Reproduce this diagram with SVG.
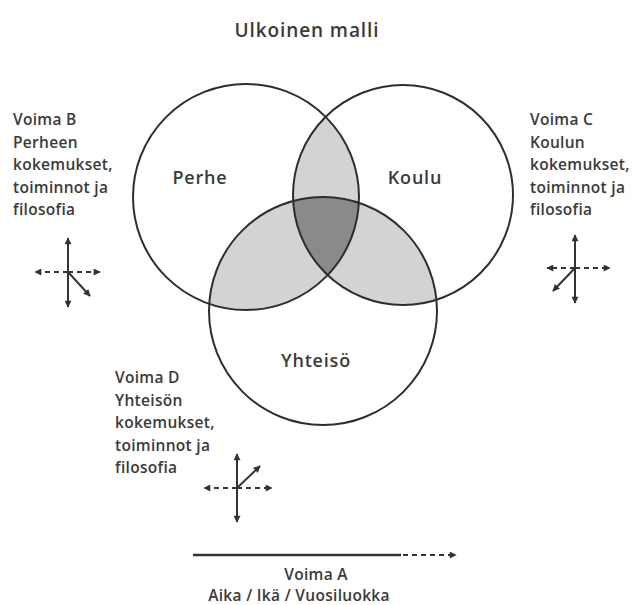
<svg xmlns="http://www.w3.org/2000/svg" width="638" height="605" viewBox="0 0 638 605">
<style>
  .lbl { font-family: "Open Sans", "Liberation Sans", sans-serif; fill: #3a3a3a; font-weight: 600; }
  .title { font-size: 19px; letter-spacing: 0.9px; }
  .node { font-size: 18px; letter-spacing: 0.8px; text-anchor: middle; }
  .side { font-size: 15.5px; letter-spacing: 0.3px; }
  .ring { fill: none; stroke: #2e2e2e; stroke-width: 2; }
  .ax { stroke: #333; stroke-width: 2; fill: none; }
  .dash { stroke: #333; stroke-width: 2; stroke-dasharray: 5 4; fill: none; }
</style>
<defs>
  <clipPath id="cA"><circle cx="246" cy="197" r="113"/></clipPath>
  <clipPath id="cB"><circle cx="403" cy="195" r="110"/></clipPath>
  <clipPath id="cC"><circle cx="323" cy="311" r="114"/></clipPath>
  <marker id="ah" viewBox="0 0 10 10" refX="9" refY="5" markerWidth="8" markerHeight="7" markerUnits="userSpaceOnUse" orient="auto-start-reverse">
    <path d="M0,0 L10,5 L0,10 z" fill="#333"/>
  </marker>
</defs>
<rect width="638" height="605" fill="#ffffff"/>

<text class="lbl title" x="307" y="37" text-anchor="middle">Ulkoinen malli</text>

<g id="overlaps">
  <g clip-path="url(#cA)"><circle cx="403" cy="195" r="110" fill="#d3d3d3"/></g>
  <g clip-path="url(#cA)"><circle cx="323" cy="311" r="114" fill="#d3d3d3"/></g>
  <g clip-path="url(#cB)"><circle cx="323" cy="311" r="114" fill="#d3d3d3"/></g>
  <g clip-path="url(#cA)"><g clip-path="url(#cB)"><circle cx="323" cy="311" r="114" fill="#8a8a8a"/></g></g>
</g>

<g id="perhe">
  <circle class="ring" cx="246" cy="197" r="113"/>
  <text class="lbl node" x="200" y="184">Perhe</text>
</g>
<g id="koulu">
  <circle class="ring" cx="403" cy="195" r="110"/>
  <text class="lbl node" x="415" y="184">Koulu</text>
</g>
<g id="yhteiso">
  <circle class="ring" cx="323" cy="311" r="114"/>
  <text class="lbl node" x="316" y="367">Yhteisö</text>
</g>

<g id="voima-b">
  <text class="lbl side" x="13" y="125">Voima B<tspan x="13" dy="22.5">Perheen</tspan><tspan x="13" dy="22.5">kokemukset,</tspan><tspan x="13" dy="22.5">toiminnot ja</tspan><tspan x="13" dy="22.5">filosofia</tspan></text>
</g>
<g id="voima-c">
  <text class="lbl side" x="530" y="125">Voima C<tspan x="530" dy="22.5">Koulun</tspan><tspan x="530" dy="22.5">kokemukset,</tspan><tspan x="530" dy="22.5">toiminnot ja</tspan><tspan x="530" dy="22.5">filosofia</tspan></text>
</g>
<g id="voima-d">
  <text class="lbl side" x="115" y="383">Voima D<tspan x="115" dy="22.5">Yhteisön</tspan><tspan x="115" dy="22.5">kokemukset,</tspan><tspan x="115" dy="22.5">toiminnot ja</tspan><tspan x="115" dy="22.5">filosofia</tspan></text>
</g>
<g id="voima-a">
  <text class="lbl side" x="316" y="580" text-anchor="middle">Voima A</text>
  <text class="lbl side" x="299" y="601" text-anchor="middle">Aika / Ikä / Vuosiluokka</text>
</g>

<g id="connectors">
  <!-- Voima B cross -->
  <line class="ax" x1="68" y1="272" x2="68" y2="238" marker-end="url(#ah)"/>
  <line class="ax" x1="68" y1="272" x2="68" y2="307" marker-end="url(#ah)"/>
  <line class="dash" x1="68" y1="272" x2="35" y2="272" marker-end="url(#ah)"/>
  <line class="dash" x1="68" y1="272" x2="100" y2="272" marker-end="url(#ah)"/>
  <line class="ax" x1="68" y1="272" x2="90" y2="296" marker-end="url(#ah)"/>
  <!-- Voima C cross -->
  <line class="ax" x1="575" y1="268" x2="575" y2="235" marker-end="url(#ah)"/>
  <line class="ax" x1="575" y1="268" x2="575" y2="303" marker-end="url(#ah)"/>
  <line class="dash" x1="575" y1="268" x2="547" y2="268" marker-end="url(#ah)"/>
  <line class="dash" x1="575" y1="268" x2="610" y2="268" marker-end="url(#ah)"/>
  <line class="ax" x1="575" y1="268" x2="553" y2="291" marker-end="url(#ah)"/>
  <!-- Voima D cross -->
  <line class="ax" x1="237" y1="488" x2="237" y2="454" marker-end="url(#ah)"/>
  <line class="ax" x1="237" y1="488" x2="237" y2="522" marker-end="url(#ah)"/>
  <line class="dash" x1="237" y1="488" x2="204" y2="488" marker-end="url(#ah)"/>
  <line class="dash" x1="237" y1="488" x2="272" y2="488" marker-end="url(#ah)"/>
  <line class="ax" x1="237" y1="488" x2="260" y2="466" marker-end="url(#ah)"/>
  <!-- Voima A time axis -->
  <line x1="193" y1="555" x2="401" y2="555" stroke="#333" stroke-width="2.5"/>
  <line class="dash" x1="403" y1="555" x2="456" y2="555" marker-end="url(#ah)"/>
</g>
</svg>
